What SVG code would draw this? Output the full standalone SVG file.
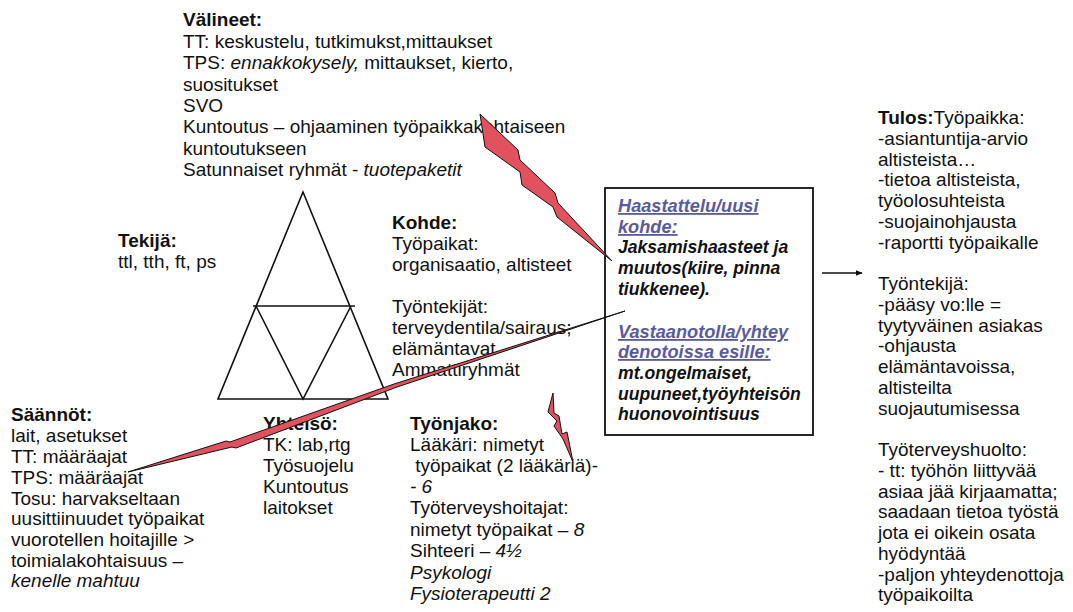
<svg xmlns="http://www.w3.org/2000/svg" width="1073" height="612" viewBox="0 0 1073 612">
  <defs>
    <style>
      text { font-family: "Liberation Sans", Arial, sans-serif; font-size: 19px; fill: #111; }
      .b { font-weight: bold; }
      .i { font-style: italic; }
      .bi { font-weight: bold; font-style: italic; font-size: 17.6px; }
      .hd { fill: #5a5a9c; text-decoration: underline; font-size: 18.2px; }
      .tri { fill: none; stroke: #111; stroke-width: 1.6; stroke-linejoin: miter; }
      .bolt { fill: #e2525e; stroke: #111; stroke-width: 1; stroke-linejoin: miter; }
      .box { fill: #fff; stroke: #111; stroke-width: 1.8; }
    </style>
    <marker id="arrowhead" viewBox="0 0 10 10" refX="9" refY="5" markerWidth="7" markerHeight="7" orient="auto" markerUnits="userSpaceOnUse">
      <path d="M0,1 L10,5 L0,9 Z" fill="#111"/>
    </marker>
  </defs>
  <rect width="1073" height="612" fill="#fff"/>

  <!-- activity triangle -->
  <g id="triangle">
    <path class="tri" d="M303,192 L218,399 L388,399 Z"/>
    <path class="tri" d="M253,306 L355,306"/>
    <path class="tri" d="M256,306 L303,399 L351,306"/>
  </g>

  <g id="valineet">
    <text x="183" y="26" class="b">Välineet:</text>
    <text x="183" y="48">TT: keskustelu, tutkimukst,mittaukset</text>
    <text x="183" y="69">TPS: <tspan class="i">ennakkokysely,</tspan> mittaukset, kierto,</text>
    <text x="183" y="91">suositukset</text>
    <text x="183" y="112">SVO</text>
    <text x="183" y="133">Kuntoutus – ohjaaminen työpaikkakohtaiseen</text>
    <text x="183" y="155">kuntoutukseen</text>
    <text x="183" y="176">Satunnaiset ryhmät - <tspan class="i">tuotepaketit</tspan></text>
  </g>

  <g id="tekija">
    <text x="118" y="247" class="b">Tekijä:</text>
    <text x="118" y="268">ttl, tth, ft, ps</text>
  </g>

  <g id="kohde">
    <text x="392" y="229" class="b">Kohde:</text>
    <text x="392" y="250">Työpaikat:</text>
    <text x="392" y="271">organisaatio, altisteet</text>
    <text x="392" y="313">Työntekijät:</text>
    <text x="392" y="334">terveydentila/sairaus;</text>
    <text x="392" y="355">elämäntavat</text>
    <text x="392" y="376">Ammattiryhmät</text>
  </g>

  <g id="haastattelu">
    <rect class="box" x="605" y="188" width="208" height="247"/>
    <text x="618" y="212" class="bi hd">Haastattelu/uusi</text>
    <text x="618" y="233" class="bi hd">kohde:</text>
    <text x="618" y="253" class="bi">Jaksamishaasteet ja</text>
    <text x="618" y="274" class="bi">muutos(kiire, pinna</text>
    <text x="618" y="295" class="bi">tiukkenee).</text>
    <text x="618" y="338" class="bi hd">Vastaanotolla/yhtey</text>
    <text x="618" y="358" class="bi hd">denotoissa esille:</text>
    <text x="618" y="379" class="bi">mt.ongelmaiset,</text>
    <text x="618" y="400" class="bi">uupuneet,työyhteisön</text>
    <text x="618" y="420" class="bi">huonovointisuus</text>
  </g>

  <g id="tulos">
    <text x="878" y="124"><tspan class="b">Tulos:</tspan>Työpaikka:</text>
    <text x="878" y="145">-asiantuntija-arvio</text>
    <text x="878" y="165.5">altisteista…</text>
    <text x="878" y="186">-tietoa altisteista,</text>
    <text x="878" y="207">työolosuhteista</text>
    <text x="878" y="228">-suojainohjausta</text>
    <text x="878" y="248.5">-raportti työpaikalle</text>
    <text x="878" y="290">Työntekijä:</text>
    <text x="878" y="311">-pääsy vo:lle =</text>
    <text x="878" y="331.5">tyytyväinen asiakas</text>
    <text x="878" y="352">-ohjausta</text>
    <text x="878" y="373">elämäntavoissa,</text>
    <text x="878" y="394">altisteilta</text>
    <text x="878" y="414.5">suojautumisessa</text>
    <text x="878" y="456">Työterveyshuolto:</text>
    <text x="878" y="477">- tt: työhön liittyvää</text>
    <text x="878" y="497.5">asiaa jää kirjaamatta;</text>
    <text x="878" y="518">saadaan tietoa työstä</text>
    <text x="878" y="539">jota ei oikein osata</text>
    <text x="878" y="560">hyödyntää</text>
    <text x="878" y="580.5">-paljon yhteydenottoja</text>
    <text x="878" y="601">työpaikoilta</text>
  </g>

  <g id="saannot">
    <text x="11" y="421" class="b">Säännöt:</text>
    <text x="11" y="442">lait, asetukset</text>
    <text x="11" y="463">TT: määräajat</text>
    <text x="11" y="484">TPS: määräajat</text>
    <text x="11" y="504.5">Tosu: harvakseltaan</text>
    <text x="11" y="525">uusittiinuudet työpaikat</text>
    <text x="11" y="546">vuorotellen hoitajille &gt;</text>
    <text x="11" y="566.5">toimialakohtaisuus –</text>
    <text x="11" y="587" class="i">kenelle mahtuu</text>
  </g>

  <g id="yhteiso">
    <text x="263" y="430" class="b">Yhteisö:</text>
    <text x="263" y="451">TK: lab,rtg</text>
    <text x="263" y="472">Työsuojelu</text>
    <text x="263" y="493">Kuntoutus</text>
    <text x="263" y="514">laitokset</text>
  </g>

  <g id="tyonjako">
    <text x="410" y="430" class="b">Työnjako:</text>
    <text x="410" y="451">Lääkäri: nimetyt</text>
    <text x="410" y="472" xml:space="preserve"> työpaikat (2 lääkäriä)-</text>
    <text x="410" y="493" class="i">- 6</text>
    <text x="410" y="514">Työterveyshoitajat:</text>
    <text x="410" y="535.5">nimetyt työpaikat – <tspan class="i">8</tspan></text>
    <text x="410" y="557">Sihteeri <tspan class="i">– 4½</tspan></text>
    <text x="410" y="578.5" class="i">Psykologi</text>
    <text x="410" y="600" class="i">Fysioterapeutti 2</text>
  </g>

  <!-- connectors: lightning bolts and result arrow -->
  <g id="connectors">
    <path class="bolt" d="M480,114 L518,150 L520,160 L555,193 L558,203 L612,261 L557,217 L553,207 L522,185 L520,172 L485,147 Z"/>
    <path class="bolt" d="M128,472 L226,441 L230,442 L394,384 L625,311 L397,387 L236,448 L232,447 Z"/>
    <path class="bolt" d="M553,393 L548,412 L557,421 L554,426 L563,439 L573,462 L567,432 L562,434 L559,416 L554,413 Z"/>
    <line x1="822" y1="273" x2="862" y2="273" stroke="#111" stroke-width="1.5" marker-end="url(#arrowhead)"/>
  </g>
</svg>
